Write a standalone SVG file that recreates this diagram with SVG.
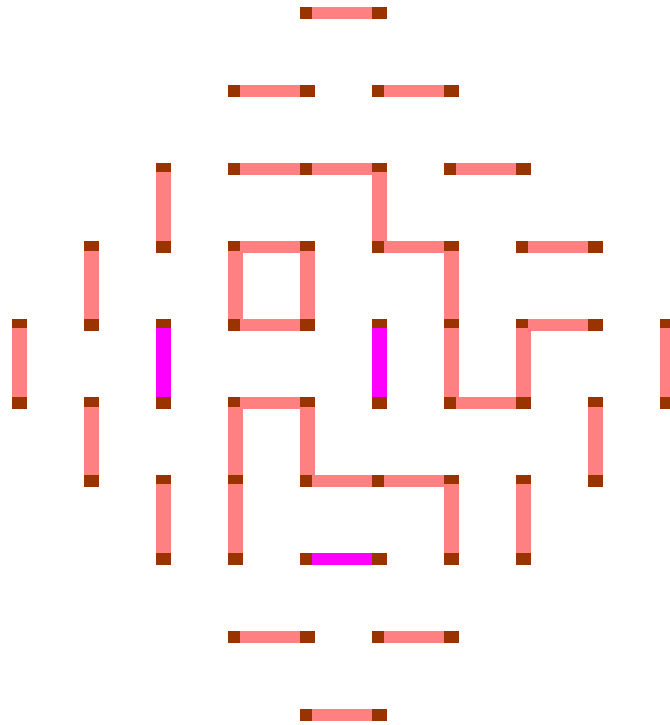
<svg xmlns="http://www.w3.org/2000/svg" width="670" height="725" viewBox="0 0 670 725">
<style>
.n{fill:#993300}
.e{fill:#FF8080}
.m{fill:#FF00FF}
.h{width:60px;height:12px}
.v{width:15px}
</style>
<rect width="670" height="725" fill="#ffffff"/>
<g id="nodes">
<g id="n-4-0"><rect class="n" x="300" y="7" width="15" height="12"/></g>
<g id="n-5-0"><rect class="n" x="372" y="7" width="15" height="12"/></g>
<g id="n-3-1"><rect class="n" x="228" y="85" width="15" height="12"/></g>
<g id="n-4-1"><rect class="n" x="300" y="85" width="15" height="12"/></g>
<g id="n-5-1"><rect class="n" x="372" y="85" width="15" height="12"/></g>
<g id="n-6-1"><rect class="n" x="444" y="85" width="15" height="12"/></g>
<g id="n-2-2"><rect class="n" x="156" y="163" width="15" height="12"/></g>
<g id="n-3-2"><rect class="n" x="228" y="163" width="15" height="12"/></g>
<g id="n-4-2"><rect class="n" x="300" y="163" width="15" height="12"/></g>
<g id="n-5-2"><rect class="n" x="372" y="163" width="15" height="12"/></g>
<g id="n-6-2"><rect class="n" x="444" y="163" width="15" height="12"/></g>
<g id="n-7-2"><rect class="n" x="516" y="163" width="15" height="12"/></g>
<g id="n-1-3"><rect class="n" x="84" y="241" width="15" height="12"/></g>
<g id="n-2-3"><rect class="n" x="156" y="241" width="15" height="12"/></g>
<g id="n-3-3"><rect class="n" x="228" y="241" width="15" height="12"/></g>
<g id="n-4-3"><rect class="n" x="300" y="241" width="15" height="12"/></g>
<g id="n-5-3"><rect class="n" x="372" y="241" width="15" height="12"/></g>
<g id="n-6-3"><rect class="n" x="444" y="241" width="15" height="12"/></g>
<g id="n-7-3"><rect class="n" x="516" y="241" width="15" height="12"/></g>
<g id="n-8-3"><rect class="n" x="588" y="241" width="15" height="12"/></g>
<g id="n-0-4"><rect class="n" x="12" y="319" width="15" height="12"/></g>
<g id="n-1-4"><rect class="n" x="84" y="319" width="15" height="12"/></g>
<g id="n-2-4"><rect class="n" x="156" y="319" width="15" height="12"/></g>
<g id="n-3-4"><rect class="n" x="228" y="319" width="15" height="12"/></g>
<g id="n-4-4"><rect class="n" x="300" y="319" width="15" height="12"/></g>
<g id="n-5-4"><rect class="n" x="372" y="319" width="15" height="12"/></g>
<g id="n-6-4"><rect class="n" x="444" y="319" width="15" height="12"/></g>
<g id="n-7-4"><rect class="n" x="516" y="319" width="15" height="12"/></g>
<g id="n-8-4"><rect class="n" x="588" y="319" width="15" height="12"/></g>
<g id="n-9-4"><rect class="n" x="660" y="319" width="15" height="12"/></g>
<g id="n-0-5"><rect class="n" x="12" y="397" width="15" height="12"/></g>
<g id="n-1-5"><rect class="n" x="84" y="397" width="15" height="12"/></g>
<g id="n-2-5"><rect class="n" x="156" y="397" width="15" height="12"/></g>
<g id="n-3-5"><rect class="n" x="228" y="397" width="15" height="12"/></g>
<g id="n-4-5"><rect class="n" x="300" y="397" width="15" height="12"/></g>
<g id="n-5-5"><rect class="n" x="372" y="397" width="15" height="12"/></g>
<g id="n-6-5"><rect class="n" x="444" y="397" width="15" height="12"/></g>
<g id="n-7-5"><rect class="n" x="516" y="397" width="15" height="12"/></g>
<g id="n-8-5"><rect class="n" x="588" y="397" width="15" height="12"/></g>
<g id="n-9-5"><rect class="n" x="660" y="397" width="15" height="12"/></g>
<g id="n-1-6"><rect class="n" x="84" y="475" width="15" height="12"/></g>
<g id="n-2-6"><rect class="n" x="156" y="475" width="15" height="12"/></g>
<g id="n-3-6"><rect class="n" x="228" y="475" width="15" height="12"/></g>
<g id="n-4-6"><rect class="n" x="300" y="475" width="15" height="12"/></g>
<g id="n-5-6"><rect class="n" x="372" y="475" width="15" height="12"/></g>
<g id="n-6-6"><rect class="n" x="444" y="475" width="15" height="12"/></g>
<g id="n-7-6"><rect class="n" x="516" y="475" width="15" height="12"/></g>
<g id="n-8-6"><rect class="n" x="588" y="475" width="15" height="12"/></g>
<g id="n-2-7"><rect class="n" x="156" y="553" width="15" height="12"/></g>
<g id="n-3-7"><rect class="n" x="228" y="553" width="15" height="12"/></g>
<g id="n-4-7"><rect class="n" x="300" y="553" width="15" height="12"/></g>
<g id="n-5-7"><rect class="n" x="372" y="553" width="15" height="12"/></g>
<g id="n-6-7"><rect class="n" x="444" y="553" width="15" height="12"/></g>
<g id="n-7-7"><rect class="n" x="516" y="553" width="15" height="12"/></g>
<g id="n-3-8"><rect class="n" x="228" y="631" width="15" height="12"/></g>
<g id="n-4-8"><rect class="n" x="300" y="631" width="15" height="12"/></g>
<g id="n-5-8"><rect class="n" x="372" y="631" width="15" height="12"/></g>
<g id="n-6-8"><rect class="n" x="444" y="631" width="15" height="12"/></g>
<g id="n-4-9"><rect class="n" x="300" y="709" width="15" height="12"/></g>
<g id="n-5-9"><rect class="n" x="372" y="709" width="15" height="12"/></g>
</g>
<g id="connectors">
<rect class="e" x="312" y="7" width="60" height="12"/>
<rect class="e" x="240" y="85" width="60" height="12"/>
<rect class="e" x="384" y="85" width="60" height="12"/>
<rect class="e" x="240" y="163" width="60" height="12"/>
<rect class="e" x="312" y="163" width="60" height="12"/>
<rect class="e" x="456" y="163" width="60" height="12"/>
<rect class="e" x="240" y="241" width="60" height="12"/>
<rect class="e" x="384" y="241" width="60" height="12"/>
<rect class="e" x="528" y="241" width="60" height="12"/>
<rect class="e" x="240" y="319" width="60" height="12"/>
<rect class="e" x="528" y="319" width="60" height="12"/>
<rect class="e" x="240" y="397" width="60" height="12"/>
<rect class="e" x="456" y="397" width="60" height="12"/>
<rect class="e" x="312" y="475" width="60" height="12"/>
<rect class="e" x="384" y="475" width="60" height="12"/>
<rect class="m" x="312" y="553" width="60" height="12"/>
<rect class="e" x="240" y="631" width="60" height="12"/>
<rect class="e" x="384" y="631" width="60" height="12"/>
<rect class="e" x="312" y="709" width="60" height="12"/>
<rect class="e" x="156" y="172" width="15" height="69"/>
<rect class="e" x="372" y="172" width="15" height="69"/>
<rect class="e" x="84" y="251" width="15" height="68"/>
<rect class="e" x="228" y="251" width="15" height="68"/>
<rect class="e" x="300" y="251" width="15" height="68"/>
<rect class="e" x="444" y="251" width="15" height="68"/>
<rect class="e" x="12" y="328" width="15" height="69"/>
<rect class="m" x="156" y="328" width="15" height="69"/>
<rect class="m" x="372" y="328" width="15" height="69"/>
<rect class="e" x="444" y="328" width="15" height="69"/>
<rect class="e" x="516" y="328" width="15" height="69"/>
<rect class="e" x="660" y="328" width="15" height="69"/>
<rect class="e" x="84" y="407" width="15" height="68"/>
<rect class="e" x="228" y="407" width="15" height="68"/>
<rect class="e" x="300" y="407" width="15" height="68"/>
<rect class="e" x="588" y="407" width="15" height="68"/>
<rect class="e" x="156" y="484" width="15" height="69"/>
<rect class="e" x="228" y="484" width="15" height="69"/>
<rect class="e" x="444" y="484" width="15" height="69"/>
<rect class="e" x="516" y="484" width="15" height="69"/>
</g>
</svg>
